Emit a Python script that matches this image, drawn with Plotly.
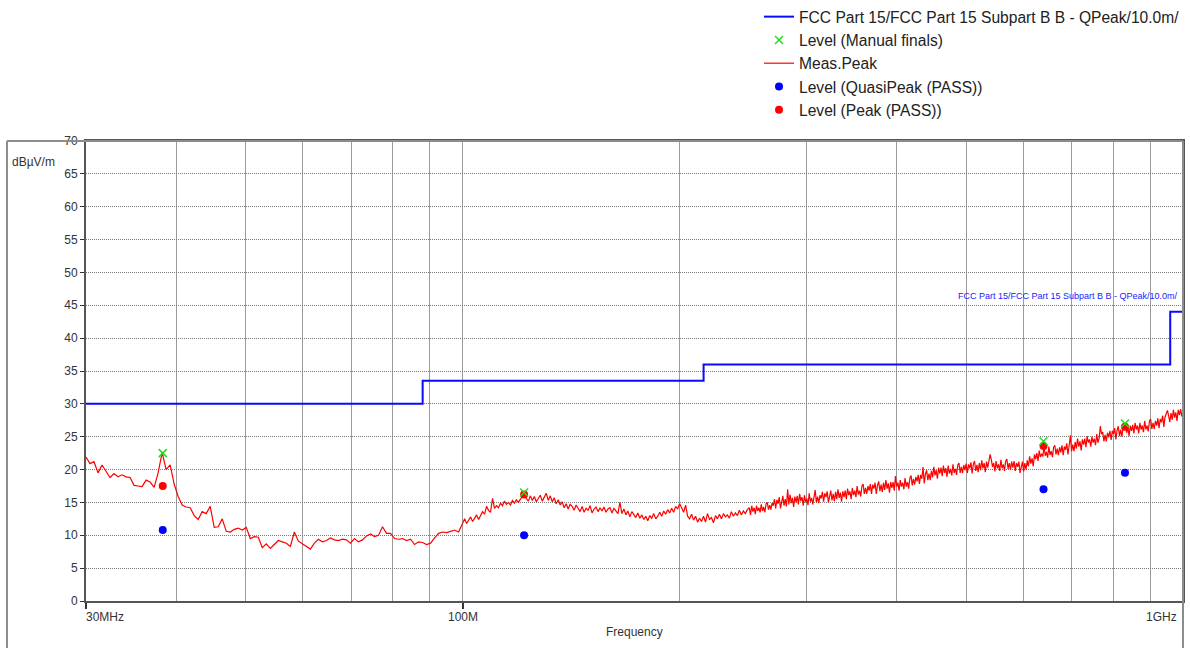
import numpy as np
import plotly.graph_objects as go

# ---------------- data ----------------
limit_freq = [30, 88, 216, 960, 1000]           # MHz
limit_level = [30, 33.5, 36, 44, 44]            # dBuV/m
limit_name = "FCC Part 15/FCC Part 15 Subpart B B - QPeak/10.0m/"

final_freq = [38.34, 121.7, 640.3, 830.7]       # MHz
manual_level = [22.5, 16.5, 24.3, 27.0]
qp_level = [10.8, 10.0, 17.0, 19.5]
peak_level = [17.5, 16.2, 23.6, 26.5]

# sweep segments (MHz): start, stop
seg1_start, seg1_stop = 30, 100
seg2_start, seg2_stop = 100, 250
seg3_start, seg3_stop = 250, 1000

meas_seg1 = [
    21.9, 20.9, 21.2, 19.5, 20.7, 19.8, 18.8, 19.4, 18.9, 19.2,
    18.9, 18.8, 17.6, 17.5, 17.4, 18.4, 18.1, 17.3, 19.5, 22.6,
    20.0, 20.7, 17.8, 15.9, 14.6, 14.3, 14.2, 13.0, 12.4, 13.6,
    13.3, 14.4, 11.2, 11.3, 12.5, 10.6, 10.5, 10.9, 11.1, 10.8,
    11.2, 9.5, 9.8, 9.7, 8.1, 8.7, 8.0, 8.6, 9.2, 9.0,
    8.8, 8.3, 10.5, 9.1, 8.7, 8.2, 7.9, 8.8, 9.4, 9.0,
    9.2, 9.6, 9.3, 9.2, 9.4, 9.3, 8.8, 9.5, 9.0, 9.3,
    9.9, 10.2, 9.8, 10.0, 11.3, 10.3, 10.3, 9.5, 9.4, 9.5,
    9.2, 9.4, 8.6, 9.0, 8.9, 8.6, 8.8, 9.6, 10.3, 10.5,
    10.4, 10.6, 10.8, 10.5, 11.9,
]

meas_seg2 = [
    11.9, 12.5, 11.8, 12.3, 12.8, 12.1, 12.6, 13.1, 12.4, 12.9,
    13.6, 13.2, 14.4, 13.8, 13.5, 15.6, 14.1, 14.5, 14.2, 14.9,
    14.5, 15.2, 14.7, 15.0, 14.6, 15.3, 14.9, 15.4, 15.0, 15.5,
    15.9, 16.5, 15.6, 15.2, 16.0, 15.3, 15.9, 15.1, 15.6, 16.1,
    15.2, 15.8, 16.4, 15.3, 16.0, 15.1, 15.7, 14.8, 15.4, 14.6,
    15.1, 14.2, 14.8, 14.0, 14.7, 14.4, 13.8, 14.6, 14.0, 13.6,
    14.4, 13.5, 14.1, 13.8, 14.5, 13.4, 14.0, 14.3, 13.6, 14.2,
    13.7, 14.3, 13.5, 14.0, 14.2, 13.4, 14.1, 13.6, 13.3, 15.0,
    13.3, 14.0, 13.1, 13.7, 12.8, 13.6, 13.2, 12.7, 13.4, 12.6,
    13.1, 12.4, 12.9, 12.2, 13.0, 12.6, 13.3, 12.5, 12.9, 13.5,
    12.9, 13.7, 13.2, 13.9, 13.4, 14.1, 13.5, 14.4, 14.0, 14.8,
    14.2, 13.5, 14.6, 12.9, 12.5, 13.2, 12.3, 12.9, 12.0, 12.6,
    12.1, 12.9, 12.0, 13.3, 12.4, 12.7, 11.9, 13.0, 12.5, 13.2,
    12.5, 13.3, 12.8, 13.1, 12.6, 13.6, 12.9, 13.4, 13.0, 13.8,
    13.1, 13.7, 13.3, 13.9,
]

meas_seg3 = [
    14.2, 13.1, 14.5, 13.6, 14.2, 13.2, 14.5, 13.7, 14.2, 13.5,
    14.7, 13.7, 14.3, 13.5, 14.8, 15.0, 13.9, 14.6, 13.9, 14.9,
    14.5, 15.5, 14.1, 15.4, 14.8, 15.8, 14.1, 15.4, 16.0, 14.5,
    15.5, 14.4, 17.0, 14.7, 16.2, 14.9, 15.7, 14.3, 15.9, 15.0,
    16.0, 14.7, 16.3, 15.2, 15.8, 14.5, 16.1, 15.0, 15.6, 14.6,
    16.4, 15.1, 15.7, 14.7, 16.2, 16.9, 15.0, 15.9, 14.9, 16.1,
    15.6, 16.6, 15.1, 16.4, 15.8, 16.7, 15.0, 16.3, 16.8, 15.3,
    16.3, 15.2, 16.6, 15.5, 17.0, 15.7, 16.5, 15.1, 16.7, 15.8,
    16.8, 15.5, 17.1, 16.1, 16.7, 15.5, 17.2, 16.1, 16.8, 15.8,
    17.5, 16.2, 16.8, 15.9, 17.5, 17.8, 16.3, 17.2, 16.3, 17.5,
    16.8, 17.8, 16.3, 17.7, 17.1, 18.0, 16.3, 17.6, 18.2, 16.7,
    17.7, 16.6, 18.0, 16.9, 18.4, 17.1, 17.9, 16.5, 18.1, 17.2,
    18.1, 16.8, 19.0, 17.4, 18.0, 16.8, 18.4, 17.4, 18.0, 17.0,
    18.7, 17.4, 18.1, 17.1, 18.7, 19.1, 17.6, 18.6, 17.7, 18.9,
    18.2, 19.2, 17.8, 19.2, 18.6, 20.4, 17.9, 19.3, 19.9, 18.4,
    19.4, 18.4, 19.8, 18.8, 20.4, 19.1, 19.9, 18.6, 20.3, 19.4,
    20.3, 19.0, 20.6, 19.5, 20.2, 18.9, 20.6, 19.4, 20.1, 19.1,
    20.8, 19.5, 20.1, 19.2, 20.7, 21.0, 19.5, 20.4, 19.5, 20.7,
    19.9, 20.9, 19.5, 20.8, 20.2, 21.1, 19.4, 20.8, 21.3, 19.8,
    20.7, 19.6, 21.0, 19.9, 21.4, 20.2, 21.0, 19.6, 21.2, 20.3,
    21.2, 22.3, 21.5, 20.4, 21.0, 19.7, 21.3, 20.2, 20.8, 19.8,
    21.5, 20.2, 20.8, 19.8, 21.3, 21.6, 20.1, 21.0, 20.0, 21.2,
    20.3, 21.3, 19.8, 21.0, 20.4, 21.2, 19.5, 20.7, 21.2, 19.7,
    21.0, 20.0, 21.4, 20.5, 22.0, 20.9, 21.7, 20.5, 22.3, 21.6,
    22.5, 21.3, 22.9, 21.9, 22.4, 22.0, 23.6, 22.1, 22.7, 21.8,
    23.5, 22.2, 22.8, 21.9, 23.4, 23.7, 22.3, 23.2, 22.2, 23.4,
    22.6, 23.7, 22.2, 23.5, 23.0, 24.0, 22.3, 23.7, 25.2, 22.8,
    23.8, 22.8, 24.2, 23.2, 24.7, 23.5, 24.3, 22.9, 24.6, 23.8,
    24.7, 23.4, 25.1, 24.1, 24.6, 23.5, 25.0, 24.1, 24.7, 23.7,
    25.4, 24.1, 24.8, 26.6, 25.4, 25.7, 24.3, 25.3, 24.3, 25.6,
    24.9, 25.9, 24.5, 25.9, 25.4, 26.3, 24.6, 26.0, 26.6, 25.1,
    26.1, 25.0, 26.4, 26.6, 26.9, 25.6, 26.5, 25.1, 26.7, 25.9,
    26.8, 25.5, 27.1, 26.1, 26.7, 25.5, 27.1, 26.1, 26.7, 25.7,
    27.4, 26.1, 26.7, 25.8, 27.4, 27.7, 26.2, 27.1, 26.2, 27.4,
    26.7, 27.8, 26.3, 27.7, 27.2, 28.2, 26.5, 28.0, 28.6, 29.0,
    28.2, 27.2, 28.6, 27.6, 29.1, 27.9, 28.7, 27.4, 29.1, 28.3,
    29.2, 28.1, 29.0,
]

x_tick_vals = [30, 100, 1000]
x_tick_text = ["30MHz", "100M", "1GHz"]
x_minor_vals = [40, 50, 60, 70, 80, 90, 200, 300, 400, 500, 600, 700, 800, 900]
y_tick_vals = list(range(0, 75, 5))

# sweep frequency grids (log-spaced sweep points per segment)
f1 = np.geomspace(seg1_start, seg1_stop, len(meas_seg1))
f2 = np.geomspace(seg2_start, seg2_stop, len(meas_seg2) + 1)[:-1]
f3 = np.geomspace(seg3_start, seg3_stop, len(meas_seg3))
meas_freq = np.concatenate([f1, f2[1:], f3])
meas_level = np.concatenate([meas_seg1, meas_seg2[1:], meas_seg3])

FONT = "Liberation Sans, Arial, sans-serif"

fig = go.Figure()

fig.add_trace(go.Scatter(
    x=limit_freq, y=limit_level, mode="lines", line_shape="hv",
    line=dict(color="#0a0aff", width=2), name=limit_name, legendrank=1))

fig.add_trace(go.Scatter(
    x=meas_freq, y=meas_level, mode="lines",
    line=dict(color="#ff0000", width=1.2), name="Meas.Peak", legendrank=3))

fig.add_trace(go.Scatter(
    x=final_freq, y=peak_level, mode="markers",
    marker=dict(color="#ff0000", size=8, symbol="circle"),
    name="Level (Peak (PASS))", legendrank=5))

fig.add_trace(go.Scatter(
    x=final_freq, y=qp_level, mode="markers",
    marker=dict(color="#0000ff", size=8, symbol="circle"),
    name="Level (QuasiPeak (PASS))", legendrank=4))

fig.add_trace(go.Scatter(
    x=final_freq, y=manual_level, mode="markers",
    marker=dict(color="#22dd22", size=8, symbol="x-thin",
                line=dict(color="#22dd22", width=1.5)),
    name="Level (Manual finals)", legendrank=2))

# limit-line label inside plot (clipped by the plot area)
fig.add_trace(go.Scatter(
    x=[487], y=[46.3], mode="text", text=[limit_name],
    textposition="middle right", cliponaxis=True,
    textfont=dict(color="#2020ff", size=9, family=FONT),
    showlegend=False, hoverinfo="skip"))

fig.update_xaxes(
    type="log", range=[np.log10(30), np.log10(1000)],
    tickvals=x_tick_vals, showticklabels=False,
    ticks="outside", ticklen=6, tickcolor="#333", tickwidth=1.5,
    showgrid=True, gridcolor="#9a9a9a", gridwidth=1,
    minor=dict(tickvals=x_minor_vals, showgrid=True, gridcolor="#9a9a9a",
               gridwidth=1, ticks=""),
    showline=True, mirror=True, linecolor="#555", linewidth=2,
    zeroline=False)

fig.update_yaxes(
    range=[0, 70], tickvals=y_tick_vals,
    ticks="outside", ticklen=4, tickcolor="#333",
    tickfont=dict(family=FONT, size=12, color="#333"),
    showgrid=True, gridcolor="#7a7a7a", gridwidth=1, griddash="1px,1px",
    showline=True, mirror=True, linecolor="#555", linewidth=2,
    zeroline=False)

annotations = []
anchors = ["left", "center", "right"]
shifts = [-2, 0, -4]
for v, t, a, s in zip(x_tick_vals, x_tick_text, anchors, shifts):
    annotations.append(dict(
        x=np.log10(v), y=0, xref="x", yref="paper", text=t, showarrow=False,
        xanchor=a, yanchor="top", yshift=-7, xshift=s,
        font=dict(family=FONT, size=12, color="#333")))
annotations.append(dict(
    x=0.5, y=-0.048, xref="paper", yref="paper", text="Frequency",
    showarrow=False, xanchor="center", yanchor="top",
    font=dict(family=FONT, size=12, color="#333")))
annotations.append(dict(
    x=(10 - 86) / 1097, y=(601 - 162) / 460, xref="paper", yref="paper",
    text="dBµV/m", showarrow=False, xanchor="left", yanchor="middle",
    font=dict(family=FONT, size=12, color="#333")))

frame_c = "#8c8c8c"
shapes = [
    dict(type="line", xref="paper", yref="paper",
         x0=(7 - 86) / 1097, x1=(7 - 86) / 1097, y0=1, y1=-0.12,
         line=dict(color=frame_c, width=2)),
    dict(type="line", xref="paper", yref="paper",
         x0=(7 - 86) / 1097, x1=1, y0=1, y1=1,
         line=dict(color=frame_c, width=2)),
    dict(type="line", xref="paper", yref="paper",
         x0=1, x1=1, y0=1, y1=-0.12,
         line=dict(color=frame_c, width=2)),
]

fig.update_layout(
    width=1190, height=648,
    margin=dict(l=86, r=7, t=141, b=47, autoexpand=False),
    paper_bgcolor="white", plot_bgcolor="white",
    font=dict(family=FONT, size=15.5, color="#222"),
    showlegend=True,
    legend=dict(x=(759 - 86) / 1097, xanchor="left",
                y=(601 + 0) / 460, yanchor="top",
                bgcolor="rgba(0,0,0,0)", borderwidth=0,
                font=dict(family=FONT, size=15.6, color="#222"),
                tracegroupgap=0, itemwidth=30),
    annotations=annotations, shapes=shapes,
)

fig.write_html("out.html", config={"displayModeBar": False},
               post_script="document.body.style.margin='0';")
